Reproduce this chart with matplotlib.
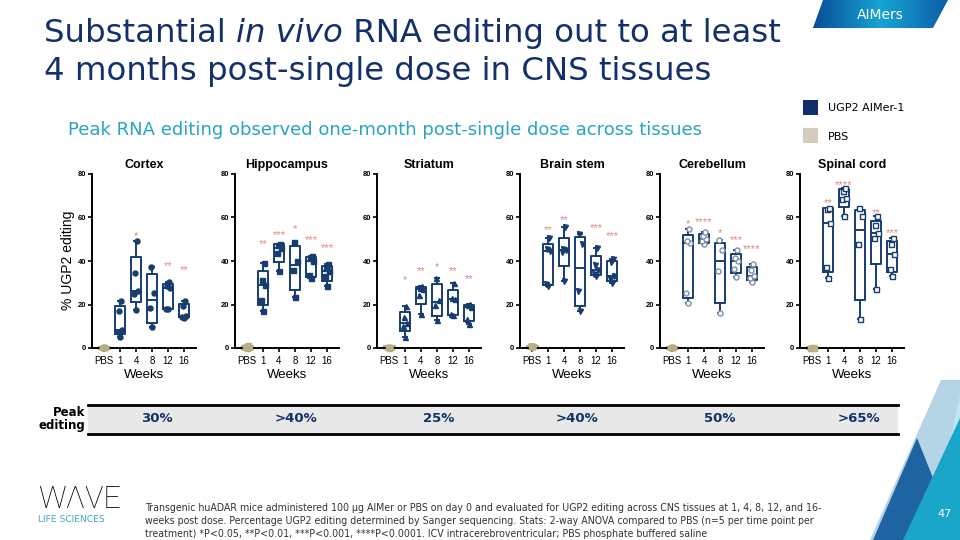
import numpy as np
import matplotlib
matplotlib.use('Agg')
import matplotlib.pyplot as plt
from matplotlib.patches import Polygon, Rectangle
from matplotlib.colors import LinearSegmentedColormap

W, H = 960, 540

weeks = ['PBS', '1', '4', '8', '12', '16']
tissues = ['Cortex', 'Hippocampus', 'Striatum', 'Brain stem', 'Cerebellum', 'Spinal cord']
peak_editing = ['30%', '>40%', '25%', '>40%', '50%', '>65%']

# % UGP2 editing per animal: PBS, 1, 4, 8, 12, 16 weeks
cortex = [[0.0, 0.1, 0.2, 0.3, 0.4], [5.0, 7.5, 8.4, 17.0, 21.4], [17.6, 24.6, 26.0, 34.4, 49.4],
          [9.5, 18.3, 25.5, 37.1], [17.8, 18.0, 27.8, 28.4, 30.5], [13.9, 14.2, 14.8, 19.1, 21.8]]
hippocampus = [[0.0, 0.3, 0.6, 0.9, 1.2], [17.1, 22.2, 29.0, 31.3, 39.3], [35.2, 43.5, 46.0, 47.2, 48.0],
               [23.4, 36.0, 40.0, 48.9], [32.2, 33.5, 39.8, 41.2, 42.3], [28.6, 32.9, 35.5, 37.0, 38.5]]
striatum = [[0.2, 0.4, 0.6, 0.8, 1.0], [5.0, 10.2, 11.5, 14.1, 19.4], [15.7, 24.5, 27.2, 27.6, 28.3],
            [12.7, 20.0, 22.2, 32.1], [15.0, 15.6, 22.4, 22.8, 30.1], [11.0, 13.4, 18.8, 19.6, 20.3]]
brain_stem = [[0.2, 0.4, 0.6, 0.8, 1.0], [28.7, 29.3, 44.6, 45.5, 50.5], [31.0, 44.0, 45.1, 45.5, 55.5],
              [17.1, 26.0, 47.7, 52.3], [33.3, 34.0, 36.0, 38.0, 46.2], [30.1, 31.5, 33.2, 39.6, 40.8]]
cerebellum = [[0.0, 0.1, 0.2, 0.3, 0.4], [20.6, 25.2, 48.2, 49.4, 54.7], [47.8, 49.0, 50.3, 51.5, 53.5],
              [16.0, 35.2, 45.1, 49.5], [32.6, 36.4, 39.8, 41.3, 45.1], [30.4, 32.2, 33.3, 35.8, 38.7]]
spinal_cord = [[0.0, 0.1, 0.2, 0.3, 0.4], [32.3, 37.3, 57.4, 64.0, 64.5], [60.7, 68.5, 69.1, 72.3, 73.7],
               [13.2, 47.8, 60.9, 64.5], [26.9, 50.8, 52.8, 56.6, 60.5], [33.3, 36.4, 43.2, 47.9, 50.6]]
all_data = [cortex, hippocampus, striatum, brain_stem, cerebellum, spinal_cord]

# significance vs PBS for weeks 1..16 and the height they sit at
stars = [['', '*', '', '**', '**'],
         ['**', '***', '*', '***', '***'],
         ['*', '**', '*', '**', '**'],
         ['**', '**', '', '***', '***'],
         ['*', '****', '*', '***', '****'],
         ['**', '****', '', '**', '***']]
star_y = [[0, 52.7, 0, 39.0, 37.4],
          [49.4, 53.4, 56.0, 51.0, 47.4],
          [32.6, 36.7, 38.7, 36.7, 32.9],
          [55.8, 60.4, 0, 56.6, 52.8],
          [58.4, 59.3, 54.3, 50.9, 46.9],
          [68.0, 76.4, 0, 63.5, 54.3]]

navy = '#163c70'
tan = '#b8ae88'
star_col = '#e0877c'
markers = [('o', navy), ('s', navy), ('^', navy), ('v', navy), ('o', 'white'), ('s', 'white')]
jit = [0.0, -0.13, 0.13, -0.07, 0.07]

fig = plt.figure(figsize=(9.6, 5.4), dpi=100)
r = fig.canvas.get_renderer()

# background layer in pixel coordinates
bg = fig.add_axes([0, 0, 1, 1])
bg.axis('off')

# AIMers tab
tab = Polygon([(823, 0), (948, 0), (933, 28), (813, 28)], closed=True, fc='none', ec='none')
bg.add_patch(tab)
cm = LinearSegmentedColormap.from_list('tab', ['#0a4c95', '#16a4d4', '#0c5fa8'])
im = bg.imshow(np.linspace(0, 1, 256).reshape(1, -1), extent=[813, 948, 28, 0], cmap=cm, aspect='auto')
im.set_clip_path(tab)
bg.text(880, 15, 'AIMers', color='white', fontsize=10, ha='center', va='center', family='DejaVu Sans')

# corner triangles
bg.add_patch(Polygon([(941, 380), (960, 380), (960, 540), (870, 540)], fc='#b5d5e6', ec='none'))
bg.add_patch(Polygon([(960, 395), (960, 540), (930, 540)], fc='#bfe7f0', ec='none'))
bg.add_patch(Polygon([(917, 438), (873, 540), (958, 540)], fc='#1f64a2', ec='none'))
bg.add_patch(Polygon([(960, 418), (903, 540), (960, 540)], fc='#19a6c9', ec='none'))
bg.text(945, 514, '47', color='white', fontsize=8, ha='center', va='center')

bg.set_xlim(0, W)
bg.set_ylim(H, 0)

# title with italic part
x = 44
for s, st in [('Substantial ', 'normal'), ('in vivo', 'italic'), (' RNA editing out to at least', 'normal')]:
    t = bg.text(x, 42, s, style=st, fontsize=23.3, color='#13306b', va='baseline', family='DejaVu Sans')
    x += t.get_window_extent(r).width
bg.text(44, 80, '4 months post-single dose in CNS tissues', fontsize=23.3, color='#13306b',
        va='baseline', family='DejaVu Sans')
bg.text(68, 135, 'Peak RNA editing observed one-month post-single dose across tissues',
        fontsize=13, color='#2aa3c4', va='baseline', family='DejaVu Sans')

# legend
bg.add_patch(Rectangle((803, 100), 15, 15, fc='#0e2f6b', ec='none'))
bg.text(828, 108, 'UGP2 AIMer-1', fontsize=8, va='center', family='DejaVu Sans')
bg.add_patch(Rectangle((803, 128), 15, 15, fc='#d4cdbd', ec='none'))
bg.text(828, 137, 'PBS', fontsize=8, va='center', family='DejaVu Sans')

# peak editing table
bg.add_patch(Rectangle((88, 405), 810, 29, fc='#e8e8e8', ec='none'))
bg.plot([88, 898], [405, 405], color='black', lw=2)
bg.plot([88, 898], [434, 434], color='black', lw=2)
bg.text(85, 419, 'Peak\nediting', fontsize=8.5, fontweight='bold', ha='right', va='center',
        linespacing=1.0, family='DejaVu Sans')
peak_x = [157, 296, 439, 577, 720, 859]
for px_, s in zip(peak_x, peak_editing):
    bg.text(px_, 419, s, fontsize=9.5, fontweight='bold', color='#13306b', ha='center', va='center',
            family='DejaVu Sans')

# footer
bg.text(38, 499, 'W\u039bVE', fontsize=22, fontweight='light', va='center', family=['Roboto', 'DejaVu Sans'])
bg.text(38, 520, 'LIFE SCIENCES', fontsize=6.6, color='#3fa7c8', va='center', family='DejaVu Sans')
note = ['Transgenic huADAR mice administered 100 \u03bcg AIMer or PBS on day 0 and evaluated for UGP2 editing across CNS tissues at 1, 4, 8, 12, and 16-',
        'weeks post dose. Percentage UGP2 editing determined by Sanger sequencing. Stats: 2-way ANOVA compared to PBS (n=5 per time point per',
        'treatment) *P<0.05, **P<0.01, ***P<0.001, ****P<0.0001. ICV intracerebroventricular; PBS phosphate buffered saline']
for k, line in enumerate(note):
    t = bg.text(145, 508 + 13 * k, line, fontsize=8.2, color='#333333', va='center',
                family='DejaVu Sans', fontstretch='condensed')
    if k == 0:
        fs = 8.2 * 677 / t.get_window_extent(r).width
    t.set_fontsize(fs)

bg.text(68, 260, '% UGP2 editing', rotation=90, fontsize=10, ha='center', va='center', family='Liberation Sans')
bg.set_xlim(0, W)
bg.set_ylim(H, 0)


def box_stats(v):
    q1, med, q3 = np.percentile(v, [25, 50, 75], method='weibull')
    return dict(med=med, q1=q1, q3=q3, whislo=min(v), whishi=max(v), fliers=[])


ax_left = [92, 235, 377, 520, 660, 800]
for i, name in enumerate(tissues):
    ax = fig.add_axes([ax_left[i] / W, 1 - 348 / H, 104 / W, 174 / H])
    ax.patch.set_alpha(0)
    data = all_data[i]
    for pos, vals in enumerate(data):
        col = tan if pos == 0 else navy
        lw = 2.4 if pos == 0 else 1.4
        art = ax.bxp([box_stats(vals)], positions=[pos], widths=0.6, capwidths=0.3, showfliers=False,
                     boxprops=dict(color=col, lw=lw), whiskerprops=dict(color=col, lw=lw),
                     capprops=dict(color=col, lw=lw), medianprops=dict(color=col, lw=lw))
        for k in art:
            for a in art[k]:
                a.set_clip_on(False)
        mk, face = markers[i]
        ec = col
        if face == 'white' and pos > 0:
            ec = '#7f8ea6' if i == 4 else navy
        fc = tan if pos == 0 else face
        vs = sorted(vals)
        ax.plot([pos + jit[j] for j in range(len(vs))], vs, ls='none', marker=mk, ms=3.6,
                mfc=fc, mec=ec, mew=1.0, clip_on=False, zorder=3)
    for j, s in enumerate(stars[i]):
        if s:
            ax.text(j + 1, star_y[i][j] - 1.4, s, color=star_col, fontsize=8, ha='center', va='center',
                    family='Liberation Sans')
    ax.set_xlim(-0.75, 5.75)
    ax.set_ylim(0, 80)
    ax.set_xticks(range(6))
    ax.set_xticklabels(weeks, fontsize=7, family='Liberation Sans')
    ax.set_yticks([0, 20, 40, 60, 80])
    ax.set_yticklabels(['0', '20', '40', '60', '80'], fontsize=5.5, fontweight='bold', family='Liberation Sans')
    ax.tick_params(axis='both', length=3, width=1.2, pad=3)
    ax.tick_params(axis='y', pad=1)
    for sp in ['top', 'right']:
        ax.spines[sp].set_visible(False)
    for sp in ['left', 'bottom']:
        ax.spines[sp].set_linewidth(1.4)
    ax.set_xlabel('Weeks', fontsize=9.5, labelpad=2, family='Liberation Sans')
    ax.set_title(name, fontsize=9, fontweight='bold', pad=4, family='Liberation Sans')

fig.savefig('out.png', dpi=100)
